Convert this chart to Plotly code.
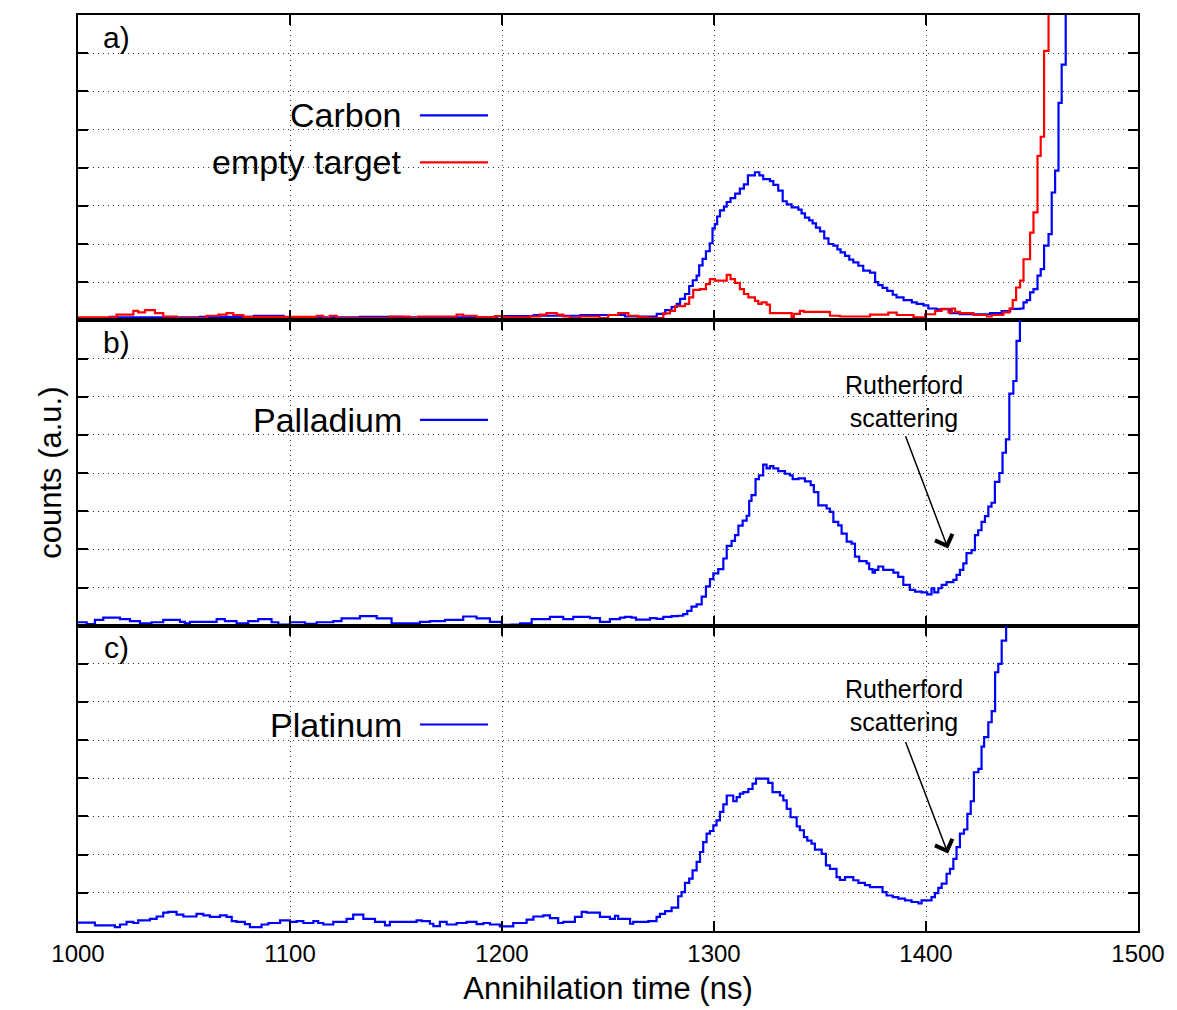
import plotly.graph_objects as go
from plotly.subplots import make_subplots

# ---------------- data (left bin edges in ns, counts in a.u.) ----------------
carbon_t = [1000, 1015, 1018, 1057.5, 1083, 1097, 1133, 1153, 1197.5, 1215, 1218, 1237, 1258, 1273, 1277,
            1280, 1282.4, 1284, 1286.3, 1288.3, 1290, 1291.8, 1293, 1294.6, 1296.2, 1298, 1299.3, 1300.4,
            1301.5, 1302.8, 1304.7, 1306, 1307.8, 1310, 1312.2, 1314.1, 1316, 1319.3, 1321.4, 1323.2, 1326.4,
            1328, 1330.3, 1332.4, 1334.3, 1336.6, 1339.8, 1341.3, 1342.9, 1344.9, 1346.5, 1348.1, 1350, 1352,
            1354, 1356.3, 1358.2, 1359.7, 1361.8, 1363.8, 1365.7, 1368.1, 1370.4, 1373.6, 1376, 1377.5, 1379.5,
            1381.7, 1384.3, 1386.1, 1389.4, 1393.3, 1395.6, 1398.8, 1401.1, 1405, 1411.4, 1416, 1430.2, 1435.7,
            1439.7, 1444.4, 1446, 1447.5, 1449.1, 1450.7, 1452.6, 1454.1, 1455.7, 1457.8, 1459.3, 1460.9, 1462.5,
            1464, 1465.9]
carbon_c = [0.06, 0.09, 0.08, 0.09, 0.12, 0.08, 0.09, 0.08, 0.11, 0.14, 0.12, 0.14, 0.1, 0.17, 0.27, 0.35, 0.43,
            0.56, 0.69, 0.9, 1.05, 1.17, 1.44, 1.61, 1.81, 2.02, 2.41, 2.52, 2.72, 2.88, 2.98, 3.1, 3.2, 3.32,
            3.45, 3.56, 3.8, 3.88, 3.8, 3.7, 3.65, 3.55, 3.4, 3.12, 3.04, 2.96, 2.9, 2.8, 2.69, 2.62, 2.54, 2.43,
            2.33, 2.15, 2.0, 1.96, 1.86, 1.78, 1.69, 1.59, 1.52, 1.43, 1.3, 1.25, 1.0, 0.92, 0.85, 0.77, 0.67,
            0.6, 0.53, 0.47, 0.43, 0.39, 0.31, 0.29, 0.19, 0.16, 0.19, 0.24, 0.3, 0.31, 0.47, 0.53, 0.73, 0.82,
            1.17, 1.34, 1.96, 2.26, 3.35, 3.92, 5.7, 6.7, 12]

empty_t = [1000, 1018.2, 1026.1, 1028.4, 1031.6, 1036.3, 1040.2, 1046.5, 1060.7, 1066.2, 1070.1, 1073.2, 1078,
           1112.6, 1115.7, 1118.8, 1122, 1147.1, 1156.6, 1160.5, 1178.6, 1181.7, 1188, 1196.7, 1200.6, 1213.2,
           1217.9, 1221, 1225.8, 1228.9, 1232, 1236.8, 1246, 1250.1, 1254.8, 1259.6, 1264.3, 1269, 1276.1,
           1279.2, 1281.6, 1286.3, 1288.3, 1290.2, 1293.4, 1296.2, 1298.1, 1300.4, 1306, 1307.8, 1309.9, 1312.2,
           1314.1, 1316.2, 1319.3, 1320.9, 1322.5, 1324.8, 1326.4, 1336.6, 1337.7, 1340.5, 1342.4, 1354.7,
           1359.4, 1373.6, 1382.2, 1386.2, 1394.1, 1399.6, 1404.3, 1407.4, 1410.6, 1412.2, 1413.7, 1416, 1422.4,
           1428.7, 1431, 1436.5, 1439.4, 1440.9, 1442.5, 1444.4, 1446, 1449.1, 1450.7, 1452.6, 1454.1, 1455.7,
           1457.8]
empty_c = [0.08, 0.15, 0.25, 0.21, 0.27, 0.19, 0.1, 0.06, 0.12, 0.15, 0.19, 0.14, 0.09, 0.12, 0.06, 0.12, 0.06,
           0.1, 0.06, 0.1, 0.15, 0.12, 0.08, 0.11, 0.08, 0.1, 0.15, 0.19, 0.15, 0.1, 0.06, 0.1, 0.06, 0.14, 0.19,
           0.12, 0.08, 0.06, 0.18, 0.25, 0.37, 0.43, 0.6, 0.8, 0.82, 0.95, 1.08, 1.04, 1.19, 1.08, 0.98, 0.82,
           0.69, 0.6, 0.51, 0.43, 0.47, 0.41, 0.19, 0.08, 0.17, 0.25, 0.22, 0.12, 0.1, 0.15, 0.2, 0.14, 0.08,
           0.16, 0.25, 0.3, 0.21, 0.31, 0.22, 0.19, 0.14, 0.1, 0.14, 0.21, 0.31, 0.53, 0.86, 1.04, 1.6, 2.3,
           2.83, 4.31, 4.81, 7.06, 12]

palladium_t = [1000, 1004.1, 1008, 1011.9, 1019.8, 1024.5, 1029.2, 1034.7, 1040.2, 1048.1,
               1050.4, 1052.8, 1065.4, 1069.3, 1074.8, 1080.3, 1085, 1091.3, 1094.5, 1100,
               1107.1, 1112.6, 1120.4, 1124.3, 1133, 1140.9, 1147.9, 1161.3, 1166, 1173.1,
               1181.7, 1188, 1194.3, 1199.8, 1204.5, 1208.5, 1214, 1222.6, 1228.9, 1233.6,
               1241.5, 1246.2, 1250.9, 1255.6, 1258, 1261.1, 1263.2, 1269.8, 1272.9, 1276.1,
               1280, 1283.1, 1285.5, 1287.4, 1289.4, 1291.8, 1294.2, 1296.2, 1298.1, 1299.7,
               1302, 1304.4, 1306, 1308.3, 1309.9, 1311.5, 1313.5, 1315.4, 1316.6, 1317.7,
               1319.6, 1321.2, 1323.2, 1324.8, 1326.4, 1328, 1330.3, 1333.5, 1335.8, 1337.1,
               1339.8, 1342.9, 1345.6, 1347.1, 1349.2, 1353.1, 1354.7, 1356.3, 1358.6, 1360.2,
               1362.6, 1364.9, 1366.5, 1368.5, 1372, 1373.2, 1374.8, 1375.9, 1377.5, 1379.8,
               1384.6, 1386.9, 1389.3, 1392.4, 1394.8, 1397.9, 1400.6, 1402.6, 1403.9, 1405.8,
               1407.4, 1409.7, 1412.9, 1414.4, 1416, 1417.6, 1419.1, 1421.5, 1423.1, 1424.6,
               1426.2, 1427.8, 1429.4, 1430.9, 1432.5, 1434.6, 1436.1, 1437.7, 1439.3, 1441.2,
               1442.7, 1444.3]
palladium_c = [0.09, 0.04, 0.15, 0.21, 0.17, 0.12, 0.06, 0.09, 0.15, 0.1,
               0.06, 0.1, 0.17, 0.12, 0.06, 0.12, 0.17, 0.09, 0.03, 0.09,
               0.05, 0.09, 0.12, 0.19, 0.25, 0.19, 0.06, 0.1, 0.12, 0.15,
               0.24, 0.19, 0.1, 0.02, 0.03, 0.06, 0.17, 0.23, 0.17, 0.23,
               0.2, 0.1, 0.17, 0.21, 0.23, 0.21, 0.16, 0.2, 0.18, 0.23,
               0.25, 0.26, 0.3, 0.39, 0.5, 0.56, 0.76, 1.03, 1.22, 1.37,
               1.48, 1.76, 2.09, 2.22, 2.37, 2.62, 2.75, 2.88, 3.27, 3.42,
               3.84, 3.94, 4.22, 4.12, 4.18, 4.12, 4.05, 3.98, 3.94, 3.84,
               3.86, 3.78, 3.68, 3.5, 3.15, 3.07, 2.98, 2.72, 2.63, 2.41,
               2.2, 2.15, 1.81, 1.69, 1.63, 1.48, 1.39, 1.46, 1.55, 1.46,
               1.39, 1.28, 1.07, 0.94, 0.89, 0.87, 0.82, 0.98, 0.87, 0.98,
               1.07, 1.14, 1.2, 1.33, 1.46, 1.63, 1.9, 1.98, 2.37, 2.5,
               2.72, 2.87, 3.12, 3.22, 3.77, 4.0, 4.53, 4.88, 6.08, 6.41,
               7.46, 12]

platinum_t = [1000, 1008, 1017.4, 1019.8, 1022.9, 1026.1, 1028.4, 1033.9, 1037.1, 1040.2,
              1042.6, 1046.5, 1049.7, 1055.9, 1059.1, 1062.2, 1067, 1070.1, 1072.5, 1074.8,
              1078.7, 1081.1, 1086.6, 1089.8, 1095.3, 1100, 1103.1, 1106.3, 1111, 1113.3,
              1115.7, 1120.4, 1126.7, 1129.8, 1134.6, 1140.1, 1144.8, 1147.1, 1159.7, 1162.1,
              1166, 1167.6, 1170.7, 1173.9, 1178.6, 1183.3, 1188, 1191.2, 1194.3, 1199,
              1205.3, 1211.6, 1214.8, 1219.5, 1222.6, 1226.5, 1228.9, 1234.4, 1237.6, 1239.9,
              1246.2, 1250.9, 1253.3, 1254.8, 1260.4, 1261.9, 1269, 1272.9, 1274.5, 1276.9,
              1280, 1283.1, 1284.7, 1286.3, 1288.3, 1289.9, 1291.8, 1293.4, 1294.9, 1296.5,
              1298.1, 1299.7, 1301.2, 1302.8, 1304.4, 1306, 1309.1, 1310.7, 1312.2, 1313.8,
              1316.2, 1318.2, 1319.8, 1325.6, 1327.6, 1331.1, 1332.7, 1334.3, 1336.1, 1339,
              1340.5, 1342.4, 1344, 1346, 1347.6, 1350.8, 1352.8, 1354.7, 1357.8, 1359.4,
              1361.8, 1365.7, 1368.1, 1371.2, 1373.6, 1379.5, 1381.4, 1384.3, 1386.9, 1390.1,
              1393.2, 1396.4, 1397.9, 1402.6, 1404.2, 1405.8, 1407.4, 1409.7, 1411.3, 1412.9,
              1414.4, 1416, 1417.9, 1419.5, 1421.1, 1422.6, 1424.7, 1426.2, 1427.4, 1429.4,
              1431, 1432.6, 1434.1, 1435.7, 1437.8]
platinum_c = [0.22, 0.15, 0.1, 0.17, 0.24, 0.21, 0.28, 0.32, 0.38, 0.48,
              0.5, 0.43, 0.38, 0.45, 0.41, 0.37, 0.41, 0.37, 0.26, 0.24,
              0.18, 0.1, 0.17, 0.21, 0.28, 0.24, 0.26, 0.21, 0.26, 0.21,
              0.17, 0.24, 0.32, 0.43, 0.32, 0.24, 0.15, 0.24, 0.28, 0.26,
              0.19, 0.13, 0.24, 0.17, 0.21, 0.24, 0.18, 0.21, 0.17, 0.12,
              0.21, 0.3, 0.38, 0.41, 0.34, 0.21, 0.24, 0.37, 0.5, 0.48,
              0.37, 0.32, 0.4, 0.32, 0.19, 0.24, 0.26, 0.37, 0.45, 0.52,
              0.61, 0.91, 1.02, 1.26, 1.37, 1.59, 1.81, 2.07, 2.33, 2.55,
              2.62, 2.77, 2.9, 3.12, 3.32, 3.55, 3.4, 3.51, 3.6, 3.64,
              3.72, 3.86, 3.99, 3.88, 3.64, 3.55, 3.42, 3.2, 2.98, 2.74,
              2.64, 2.46, 2.37, 2.29, 2.13, 2.02, 1.72, 1.63, 1.41, 1.34,
              1.41, 1.33, 1.26, 1.2, 1.15, 1.02, 0.93, 0.89, 0.85, 0.8,
              0.76, 0.72, 0.8, 0.89, 0.99, 1.13, 1.24, 1.5, 1.63, 1.89,
              2.2, 2.55, 2.66, 3.07, 3.4, 4.16, 4.25, 4.83, 5.08, 5.47,
              5.76, 6.78, 7.0, 7.61, 12]

x_ticks = [1000, 1100, 1200, 1300, 1400, 1500]
panel_labels = ["a)", "b)", "c)"]
x_title = "Annihilation time (ns)"
y_title = "counts (a.u.)"

BLUE = "#0000ff"
RED = "#ff0000"
FONT = "Liberation Sans, Arial, Helvetica, sans-serif"
X_END = 1500
GRID = dict(showgrid=True, gridcolor="#333", gridwidth=1, griddash="1px,4px")

fig = make_subplots(rows=3, cols=1, shared_xaxes=True, vertical_spacing=0)


def steps(t, c):
    return list(t) + [X_END], list(c) + [c[-1]]


for (t, c, col, row, name) in [
    (carbon_t, carbon_c, BLUE, 1, "Carbon"),
    (empty_t, empty_c, RED, 1, "empty target"),
    (palladium_t, palladium_c, BLUE, 2, "Palladium"),
    (platinum_t, platinum_c, BLUE, 3, "Platinum"),
]:
    xs, ys = steps(t, c)
    fig.add_trace(go.Scatter(x=xs, y=ys, mode="lines", name=name, showlegend=False,
                             line=dict(color=col, width=2.2, shape="hv")), row=row, col=1)

fig.update_xaxes(range=[1000, 1500], tickvals=x_ticks, ticks="inside", ticklen=10, tickwidth=2,
                 tickcolor="black", showline=True, linewidth=2, linecolor="black", mirror="allticks",
                 zeroline=False, tickfont=dict(family=FONT, size=24, color="black"), **GRID)
fig.update_yaxes(range=[0, 8], tick0=0, dtick=1, ticks="inside", ticklen=10, tickwidth=2,
                 tickcolor="black", showline=True, linewidth=2, linecolor="black", mirror="allticks",
                 zeroline=False, showticklabels=False, **GRID)
fig.update_xaxes(title=dict(text=x_title, font=dict(family=FONT, size=31, color="black"), standoff=12),
                 row=3, col=1)

annotations = []
shapes = []
axrefs = [("x", "y"), ("x2", "y2"), ("x3", "y3")]

# panel labels
for (xr, yr), lab in zip(axrefs, panel_labels):
    annotations.append(dict(x=1018, y=7.42, xref=xr, yref=yr, text=lab, showarrow=False,
                            font=dict(family=FONT, size=30, color="black")))

# legend-like keys
keys = [(0, "Carbon", BLUE, 5.37), (0, "empty target", RED, 4.14),
        (1, "Palladium", BLUE, 5.39), (2, "Platinum", BLUE, 5.41)]
for idx, txt, col, yv in keys:
    xr, yr = axrefs[idx]
    annotations.append(dict(x=1153.8, y=yv, xref=xr, yref=yr, text=txt, showarrow=False,
                            xanchor="right", yanchor="middle",
                            font=dict(family=FONT, size=34, color="black")))
    shapes.append(dict(type="line", xref=xr, yref=yr, x0=1161.3, x1=1193.4, y0=yv, y1=yv,
                       line=dict(color=col, width=2.2)))

# Rutherford scattering annotations
for idx, (mid, tip, tail) in [(1, (5.88, 2.02, 5.0)), (2, (5.9, 2.03, 4.99))]:
    xr, yr = axrefs[idx]
    annotations.append(dict(x=1389.4, y=mid, xref=xr, yref=yr, text="Rutherford<br>scattering",
                            showarrow=False, font=dict(family=FONT, size=25, color="black")))
    annotations.append(dict(x=1410.4, y=tip, xref=xr, yref=yr, ax=1390.1, ay=tail, axref=xr, ayref=yr,
                            text="", showarrow=True, arrowhead=4, arrowsize=2.4, arrowwidth=1.5,
                            arrowcolor="black"))

# y axis title
annotations.append(dict(x=-0.045, y=0.5, xref="paper", yref="paper", text=y_title, textangle=-90,
                        showarrow=False, font=dict(family=FONT, size=31, color="black")))

# page body has an 8px margin: compensate so the plot area lands where the reference has it
fig.update_layout(width=1169, height=1002, margin=dict(l=70, r=39, t=5, b=79),
                  plot_bgcolor="white", paper_bgcolor="white", showlegend=False,
                  annotations=annotations, shapes=shapes, font=dict(family=FONT, color="black"))

fig.write_html("out.html")
